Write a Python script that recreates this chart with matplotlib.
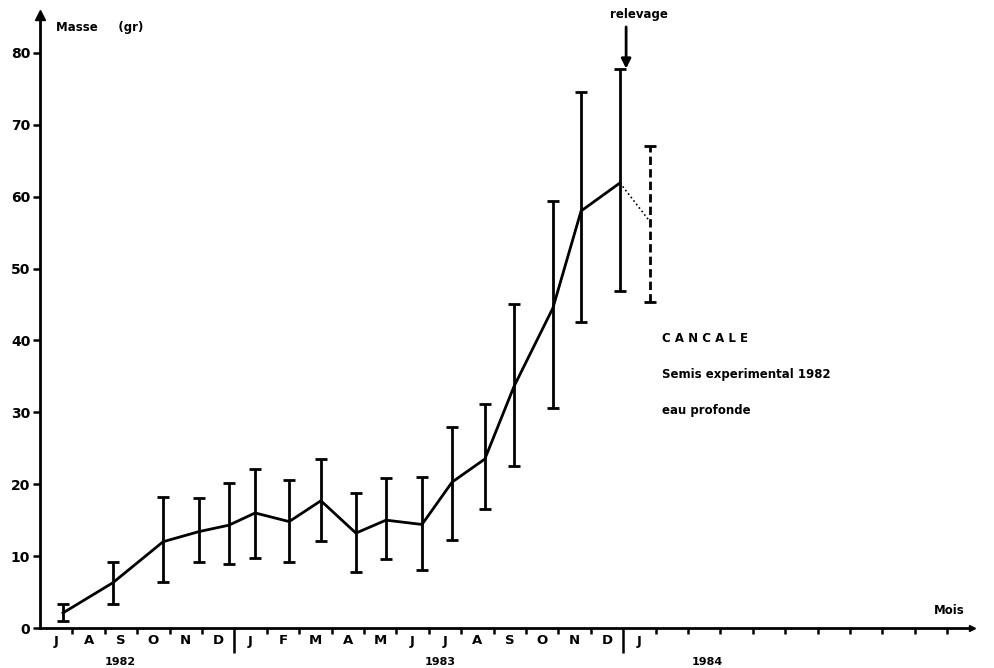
import numpy as np
import matplotlib.pyplot as plt

plt.rcParams['font.family'] = ['DejaVu Sans']

# sampling dates, in months counted from 1 July 1982
dates = [0.71, 2.25, 3.80, 4.90, 5.83, 6.64, 7.69, 8.67, 9.75, 10.68, 11.79,
         12.72, 13.73, 14.63, 15.83, 16.70, 17.90, 18.83]
masse = [2.1, 6.3, 12.0, 13.4, 14.3, 16.0, 14.8, 17.7, 13.2, 15.0, 14.4,
         20.3, 23.5, 33.6, 44.5, 58.0, 61.9, 56.5]
haut = [3.3, 9.2, 18.2, 18.1, 20.2, 22.1, 20.6, 23.5, 18.8, 20.9, 21.0,
        27.9, 31.1, 45.1, 59.4, 74.5, 77.7, 67.1]
bas = [1.0, 3.3, 6.4, 9.2, 8.9, 9.8, 9.2, 12.1, 7.8, 9.6, 8.0,
       12.2, 16.6, 22.5, 30.6, 42.5, 46.9, 45.4]

mois = ['J', 'A', 'S', 'O', 'N', 'D', 'J', 'F', 'M', 'A', 'M', 'J',
        'J', 'A', 'S', 'O', 'N', 'D', 'J']
annees = ['1982', '1983', '1984']
pos_annees = [2.47, 12.35, 20.6]

W, H = 994, 668
fig = plt.figure(figsize=(W / 100, H / 100), dpi=100)
x0, x1, y0, y1 = 40, 972, 628, 15
ax = fig.add_axes([x0 / W, (H - y0) / H, (x1 - x0) / W, (y0 - y1) / H])
ax.set_xlim(0, (x1 - x0) / 32.4)
ax.set_ylim(0, (y0 - y1) / 7.19)

for s in ['top', 'right']:
    ax.spines[s].set_visible(False)
for s in ['left', 'bottom']:
    ax.spines[s].set_linewidth(2)
ax.plot(0, 1, '^k', ms=7, transform=ax.transAxes, clip_on=False)
ax.plot(1, 0, '>k', ms=5, transform=ax.transAxes, clip_on=False)

# y axis
ax.set_yticks(range(0, 90, 10))
ax.tick_params(axis='y', direction='out', length=5, width=1.8, labelsize=10, pad=2)
for t in ax.get_yticklabels():
    t.set_fontweight('bold')

# x axis: month boundaries, long marks at the new years
ax.set_xticks([6, 18])
ax.set_xticks([m for m in range(1, 29) if m not in (6, 18)], minor=True)
ax.set_xticklabels([])
ax.tick_params(axis='x', which='major', direction='out', length=18, width=1.8)
ax.tick_params(axis='x', which='minor', direction='out', length=4, width=1.8)

for i, lbl in enumerate(mois):
    ax.annotate(lbl, xy=(i + 0.5, 0), xycoords=('data', 'axes fraction'),
                xytext=(0, -13), textcoords='offset pixels',
                ha='center', va='center', fontsize=9.5, fontweight='bold')
for p, a in zip(pos_annees, annees):
    ax.annotate(a, xy=(p, 0), xycoords=('data', 'axes fraction'),
                xytext=(0, -34), textcoords='offset pixels',
                ha='center', va='center', fontsize=8, fontweight='bold')

# curve and error bars
masse = np.array(masse)
err = [masse - np.array(bas), np.array(haut) - masse]
ax.plot(dates[:-1], masse[:-1], color='k', lw=2)
ax.plot(dates[-2:], masse[-2:], color='k', lw=1.2, ls=':')
eb = ax.errorbar(dates[:-1], masse[:-1], yerr=[err[0][:-1], err[1][:-1]],
                 fmt='none', ecolor='k', elinewidth=2, capsize=4, capthick=2)
eb2 = ax.errorbar(dates[-1:], masse[-1:], yerr=[err[0][-1:], err[1][-1:]],
                  fmt='none', ecolor='k', elinewidth=2, capsize=4, capthick=2)
eb2[2][0].set_linestyle((0, (3, 1.5)))

# texts
ax.text(0.5, 83.5, 'Masse     (gr)', fontsize=8.5, fontweight='bold', va='center')
ax.text(27.6, 2.5, 'Mois', fontsize=8.5, fontweight='bold', va='center')
ax.text(18.5, 85.3, 'relevage', fontsize=8.5, fontweight='bold',
        ha='center', va='center')
ax.annotate('', xy=(18.09, 77.8), xytext=(18.09, 83.6),
            arrowprops=dict(arrowstyle='-|>', color='k', lw=2,
                            mutation_scale=14, shrinkA=0, shrinkB=0),
            annotation_clip=False)
ax.text(19.2, 40.2, 'C A N C A L E', fontsize=8.5, fontweight='bold', va='center')
ax.text(19.2, 35.2, 'Semis experimental 1982', fontsize=8.5, fontweight='bold', va='center')
ax.text(19.2, 30.3, 'eau profonde', fontsize=8.5, fontweight='bold', va='center')

fig.savefig('out.png', dpi=100)
